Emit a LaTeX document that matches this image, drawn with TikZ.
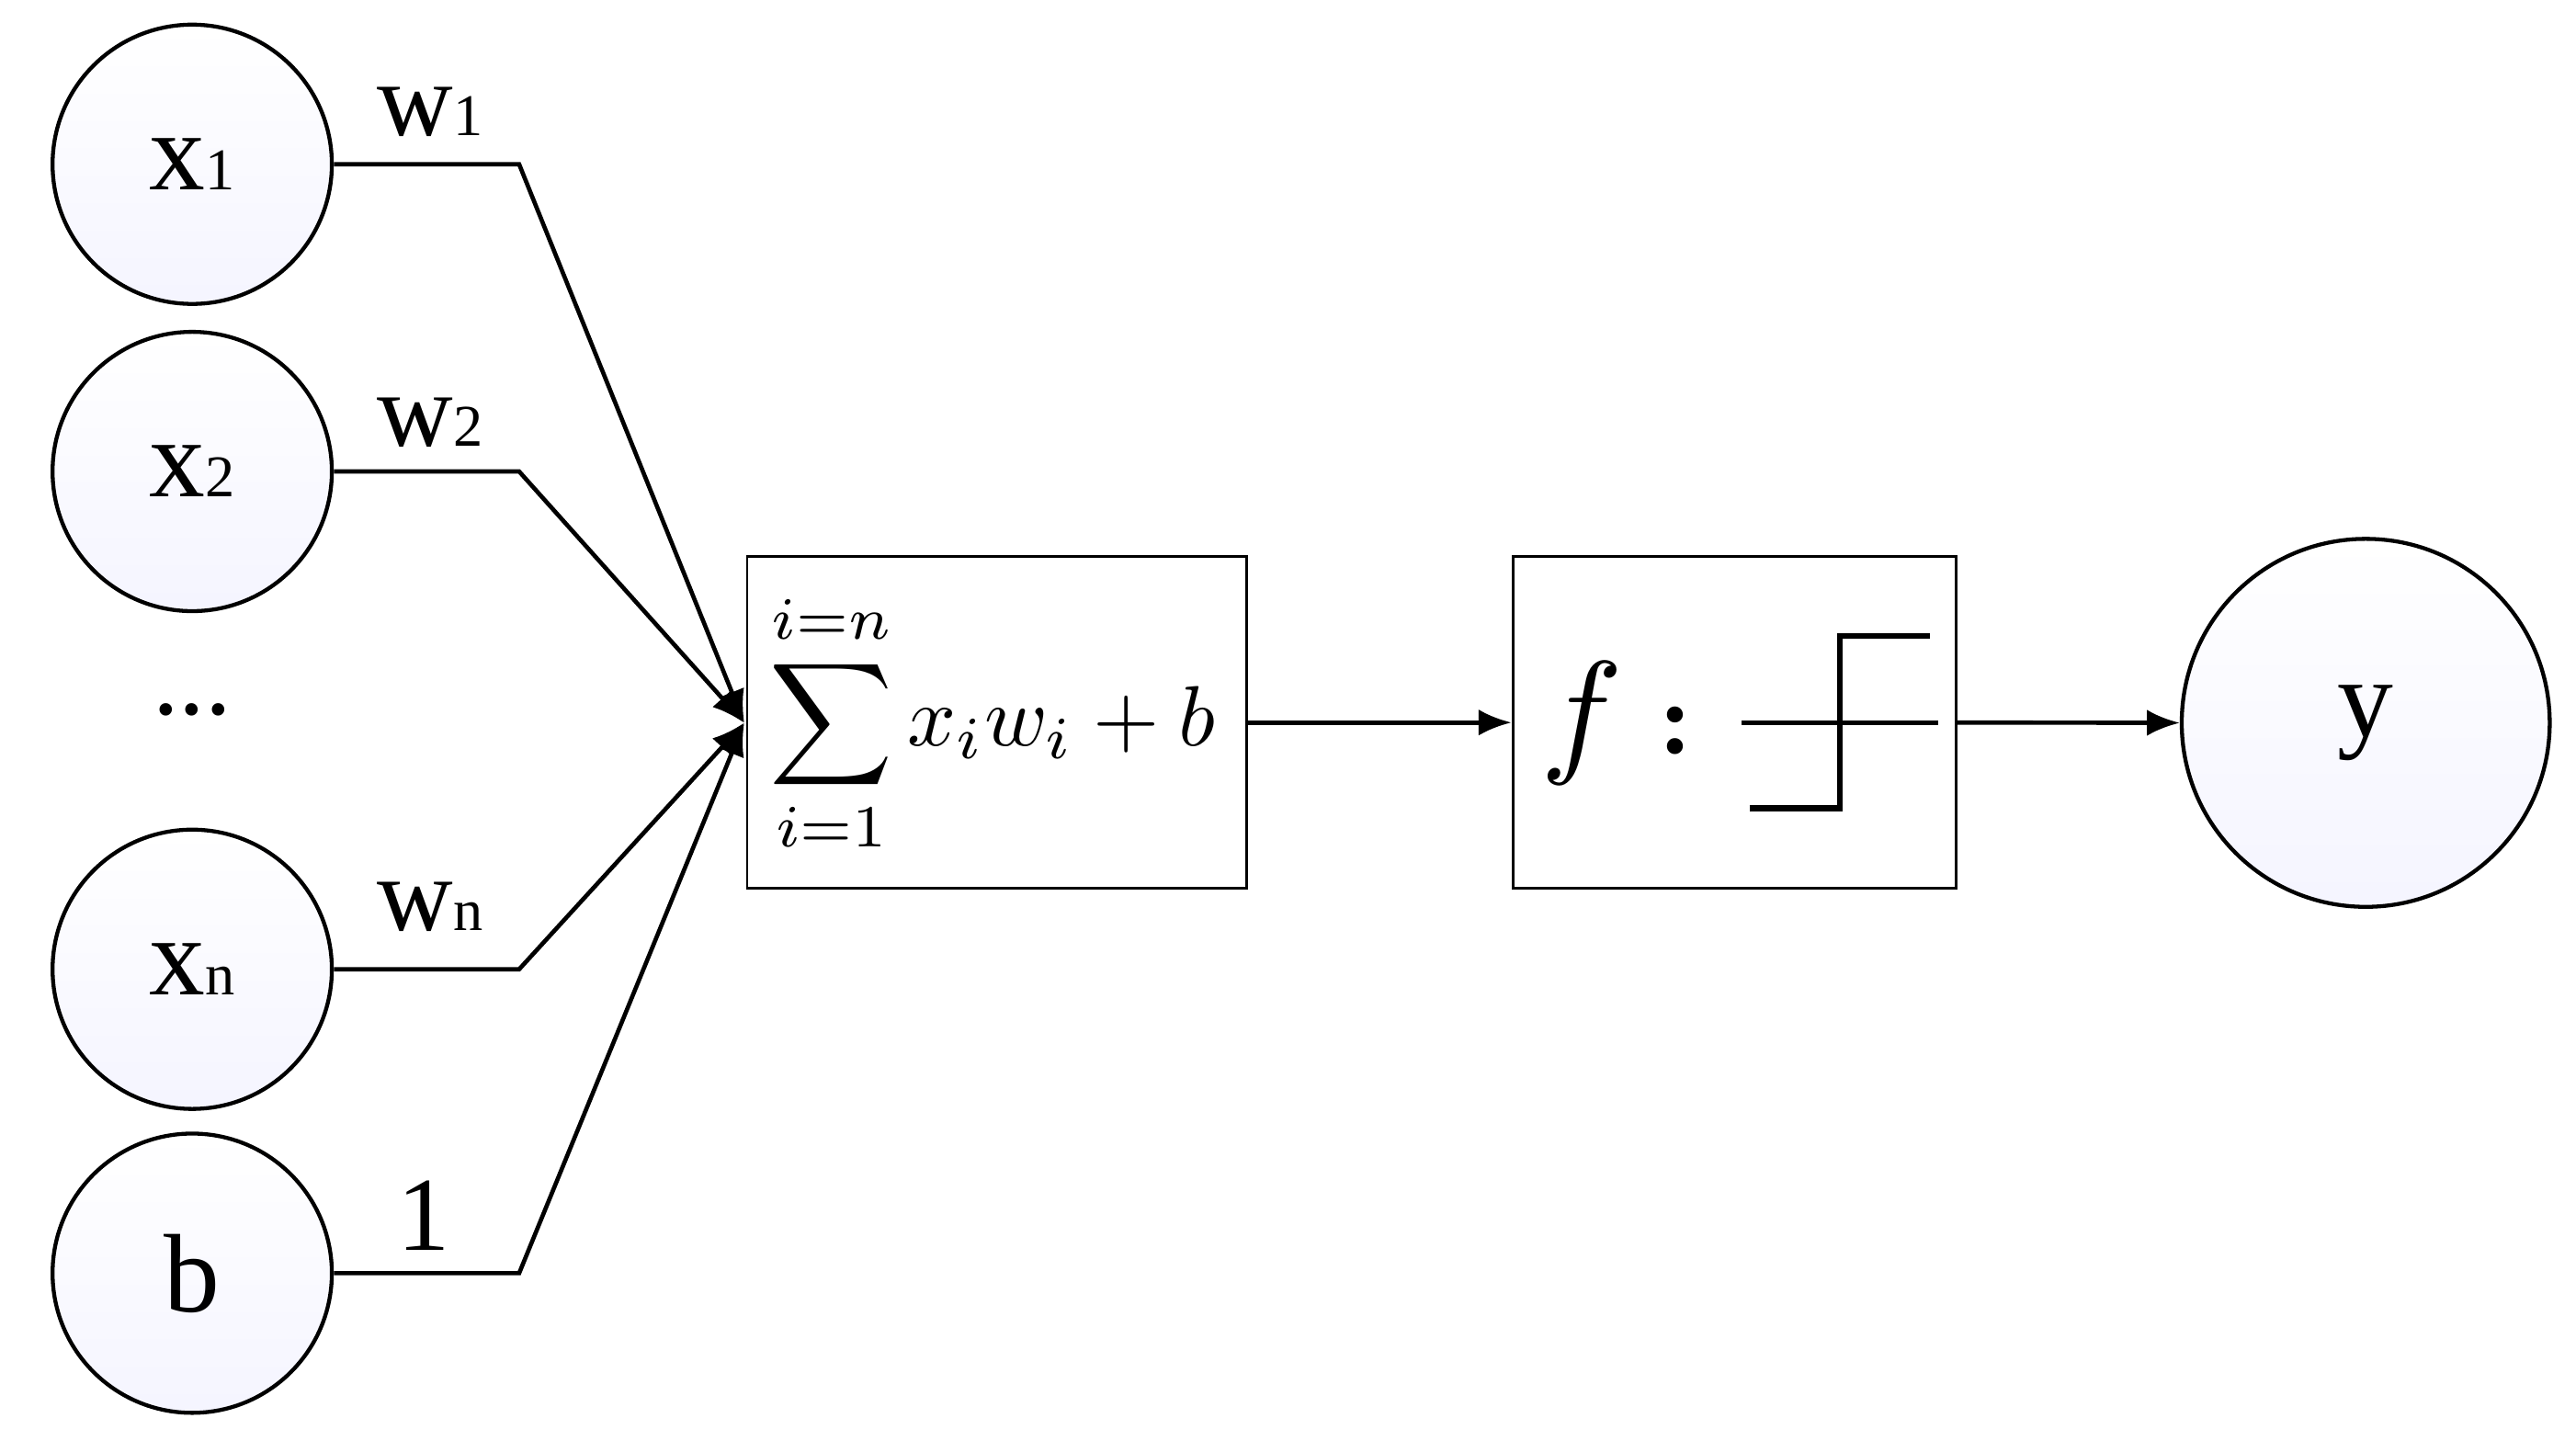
\documentclass[tikz,border=0pt]{standalone}
\usepackage{fontspec}
\setmainfont{Liberation Serif}
\usepackage{graphicx}
\usetikzlibrary{arrows.meta}
\begin{document}
\begin{tikzpicture}[x=0.5pt,y=-0.5pt,
 neuron/.style={circle,draw,line width=1.2pt,inner sep=0pt,top color=white,bottom color=blue!4,font=\fontsize{34}{36}\selectfont},
 box/.style={draw,line width=0.8pt,inner sep=0pt,anchor=north west},
 wire/.style={line width=1.3pt},
 arr/.style={wire,-{Latex[length=10pt,width=8pt]}},
 lab/.style={font=\fontsize{32}{34}\selectfont}]
\useasboundingbox (0,0) rectangle (1568,877);
\node[neuron,minimum size=85pt] (x1) at (117,100) {x{\fontsize{18}{19}\selectfont 1}};
\node[neuron,minimum size=85pt] (x2) at (117,287) {x{\fontsize{18}{19}\selectfont 2}};
\node[lab] (dots) at (117,432) {...};
\node[neuron,minimum size=85pt] (xn) at (117,590) {x{\fontsize{18}{19}\selectfont n}};
\node[neuron,minimum size=85pt] (b) at (117,775) {b};
\node[neuron,minimum size=112pt] (y) at (1440,440) {y};
\node[box,minimum width=152pt,minimum height=101pt] (sum) at (454,338) {};
\node[box,minimum width=135pt,minimum height=101pt] (fb) at (920,338) {};
\node (formula) at (604,440) {\scalebox{2.6}{$\displaystyle\sum_{i=1}^{i=n} x_i w_i + b$}};
\coordinate (t) at (453,440);
\coordinate (k1) at (316,100);\coordinate (k2) at (316,287);
\coordinate (k3) at (316,590);\coordinate (k4) at (316,775);
\draw[arr] (x1.east) -- (k1) -- (t);
\draw[arr] (x2.east) -- (k2) -- (t);
\draw[arr] (xn.east) -- (k3) -- (t);
\draw[arr] (b.east) -- (k4) -- (t);
\node[lab] (w1) at (262,68) {w{\fontsize{18}{19}\selectfont 1}};
\node[lab] (w2) at (262,257) {w{\fontsize{18}{19}\selectfont 2}};
\node[lab] (wn) at (262,552) {w{\fontsize{18}{19}\selectfont n}};
\node[lab] (one) at (258,740) {1};
\draw[arr] (sum.east) -- (fb.west);
\draw[arr] (fb.east) -- (y.west);
\node (f) at (963,440) {\scalebox{4.2}{$f$}};
\node[font=\fontsize{30}{32}\selectfont\bfseries] (colon) at (1020,445) {:};
\coordinate (h1) at (1060,440); \coordinate (h2) at (1180,440);
\draw[wire] (h1) -- (h2);
\coordinate (s1) at (1065,492); \coordinate (s2) at (1120,492);
\coordinate (s3) at (1120,387); \coordinate (s4) at (1175,387);
\draw[wire,line width=1.8pt] (s1) -- (s2) -- (s3) -- (s4);
\end{tikzpicture}
\end{document}
